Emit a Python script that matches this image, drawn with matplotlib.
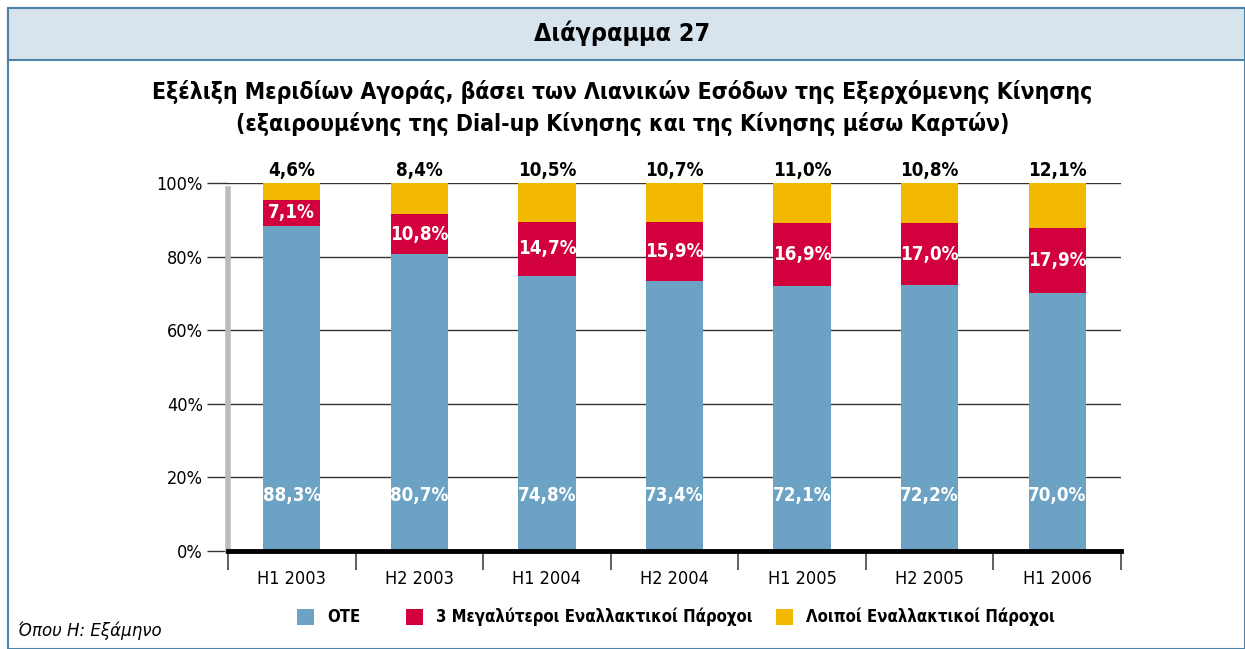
import numpy as np
import matplotlib.pyplot as plt
from matplotlib.patches import Rectangle

categories = ['H1 2003', 'H2 2003', 'H1 2004', 'H2 2004', 'H1 2005', 'H2 2005', 'H1 2006']
ote = [88.3, 80.7, 74.8, 73.4, 72.1, 72.2, 70.0]
big3 = [7.1, 10.8, 14.7, 15.9, 16.9, 17.0, 17.9]
others = [4.6, 8.4, 10.5, 10.7, 11.0, 10.8, 12.1]
yticks = [0, 20, 40, 60, 80, 100]
series_names = ['OTE', '3 Μεγαλύτεροι Εναλλακτικοί Πάροχοι', 'Λοιποί Εναλλακτικοί Πάροχοι']

c_blue = '#6ca3c4'
c_red = '#d2003c'
c_yellow = '#f2b900'

plt.rcParams['font.family'] = ['DejaVu Sans']
plt.rcParams['font.stretch'] = 'condensed'

W, H = 1245, 649
fig = plt.figure(figsize=(W / 100, H / 100), dpi=100)

# frame and title band
fig.patches.append(Rectangle((8 / W, 0), 1 - 8 / W, 1 - 8 / H, transform=fig.transFigure,
                             facecolor='white', edgecolor='#4f82a8', linewidth=1.5, zorder=-2))
fig.patches.append(Rectangle((8 / W, 1 - 60 / H), 1 - 8 / W, 52 / H, transform=fig.transFigure,
                             facecolor='#d7e4ee', edgecolor='#4f82a8', linewidth=1.5, zorder=-1))
fig.text(0.5, 1 - 33 / H, 'Διάγραμμα 27', ha='center', va='center', fontsize=18,
         fontweight='bold')
fig.text(0.5, 1 - 92 / H, 'Εξέλιξη Μεριδίων Αγοράς, βάσει των Λιανικών Εσόδων της Εξερχόμενης Κίνησης',
         ha='center', va='center', fontsize=16.5, fontweight='bold')
fig.text(0.5, 1 - 124 / H, '(εξαιρουμένης της Dial-up Κίνησης και της Κίνησης μέσω Καρτών)',
         ha='center', va='center', fontsize=16.5, fontweight='bold')

ax = fig.add_axes([228 / W, 1 - 551 / H, (1121 - 228) / W, (551 - 183) / H])
x = np.arange(len(categories)) + 0.5
bw = 0.45
ote = np.array(ote)
big3 = np.array(big3)
others = np.array(others)
ax.bar(x, ote, bw, color=c_blue, zorder=3)
ax.bar(x, big3, bw, bottom=ote, color=c_red, zorder=3)
ax.bar(x, others, bw, bottom=ote + big3, color=c_yellow, zorder=3)

for i in range(len(categories)):
    ax.text(x[i], 15, f'{ote[i]:.1f}%'.replace('.', ','), ha='center', va='center',
            color='white', fontsize=13.5, fontweight='bold', zorder=4)
    ax.text(x[i], ote[i] + big3[i] / 2, f'{big3[i]:.1f}%'.replace('.', ','), ha='center',
            va='center', color='white', fontsize=13.5, fontweight='bold', zorder=4)
    ax.text(x[i], 103.5, f'{others[i]:.1f}%'.replace('.', ','), ha='center', va='center',
            color='black', fontsize=13.5, fontweight='bold', zorder=4)

ax.set_xlim(0, 7)
ax.set_ylim(0, 100)
ax.set_yticks(yticks)
ax.set_yticklabels([f'{t}%' for t in yticks], fontsize=13)
for t in yticks[1:]:
    ax.axhline(t, color='#333333', linewidth=1, zorder=1)
ax.tick_params(axis='y', length=15, width=1, color='#333333', pad=3)
ax.set_xticks(np.arange(8))
ax.set_xticklabels([])
ax.set_xticks(x, minor=True)
ax.set_xticklabels(categories, minor=True, fontsize=13)
ax.tick_params(axis='x', which='major', length=14, width=1.2, color='#444444', direction='out')
ax.tick_params(axis='x', which='minor', length=0, pad=14)
for s in ['top', 'right']:
    ax.spines[s].set_visible(False)
ax.spines['left'].set_color('#bbbbbb')
ax.spines['left'].set_linewidth(4)
ax.spines['left'].set_bounds(0, 98.5)
ax.spines['bottom'].set_color('black')
ax.spines['bottom'].set_linewidth(3.5)
ax.spines['bottom'].set_zorder(5)

# legend
lx = [297, 406, 776]
for xx, c, name in zip(lx, [c_blue, c_red, c_yellow], series_names):
    fig.patches.append(Rectangle((xx / W, 1 - 625 / H), 17 / W, 16 / H, transform=fig.transFigure,
                                 facecolor=c, edgecolor='none'))
    fig.text((xx + 30) / W, 1 - 617 / H, name, ha='left', va='center', fontsize=12,
             fontweight='bold')

fig.text(18 / W, 1 - 631 / H, 'Όπου Η: Εξάμηνο', ha='left', va='center', fontsize=12,
         style='italic', fontstretch='normal')

fig.savefig('out.png', dpi=100)
